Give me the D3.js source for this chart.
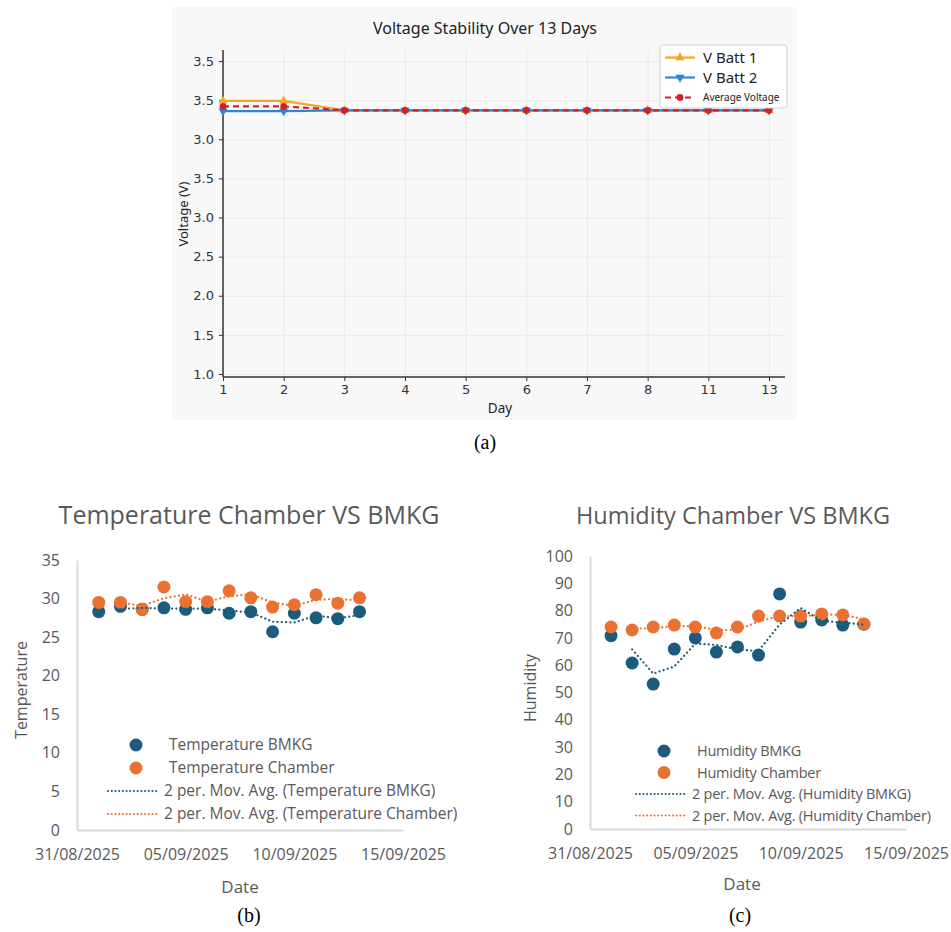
<!DOCTYPE html>
<html>
<head>
<meta charset="utf-8">
<script src="https://cdn.jsdelivr.net/npm/d3@7"></script>
<style>
  body { margin: 0; background: #fff; }
  svg { display: block; }
</style>
</head>
<body>
<div id="chart"></div>
<script>
// ---- (a) voltage ----
const dayLabels = ['1', '2', '3', '4', '5', '6', '7', '8', '11', '13'];
const voltTickLabels = ['1.0', '1.5', '2.0', '2.5', '3.0', '3.5', '3.0', '3.5', '3.5'];
const vBatt1 = [3.49, 3.49, 3.37, 3.37, 3.37, 3.37, 3.37, 3.37, 3.37, 3.37];
const vBatt2 = [3.36, 3.36, 3.37, 3.37, 3.37, 3.37, 3.37, 3.37, 3.37, 3.37];
const vAverage = [3.42, 3.42, 3.37, 3.37, 3.37, 3.37, 3.37, 3.37, 3.37, 3.37];

// ---- (b), (c) chamber vs BMKG ----
const dates = ['2025-09-01', '2025-09-02', '2025-09-03', '2025-09-04', '2025-09-05', '2025-09-06', '2025-09-07',
  '2025-09-08', '2025-09-09', '2025-09-10', '2025-09-11', '2025-09-12', '2025-09-13'];
const dateTicks = ['2025-08-31', '2025-09-05', '2025-09-10', '2025-09-15'];
const tempBMKG = [28.3, 29.0, 28.6, 28.8, 28.6, 28.8, 28.1, 28.3, 25.7, 28.1, 27.5, 27.4, 28.3];
const tempChamber = [29.5, 29.5, 28.6, 31.5, 29.6, 29.6, 31.0, 30.1, 28.9, 29.2, 30.5, 29.4, 30.1];
const humBMKG = [70.8, 60.8, 53.1, 65.9, 70.0, 64.8, 66.7, 63.7, 86.1, 75.8, 76.6, 74.7, 75.0];
const humChamber = [74.0, 72.9, 74.0, 74.7, 74.0, 71.8, 74.0, 78.0, 78.0, 78.0, 78.8, 78.4, 75.1];
const tempTicks = [0, 5, 10, 15, 20, 25, 30, 35];
const humTicks = [0, 10, 20, 30, 40, 50, 60, 70, 80, 90, 100];

const W = 951, H = 932;
const svg = d3.select('#chart').append('svg').attr('width', W).attr('height', H);
const parseDate = d3.timeParse('%Y-%m-%d');
const fmtDate = d3.timeFormat('%d/%m/%Y');

// ================= (a) =================
function drawVoltage() {
  const g = svg.append('g');
  const font = "'Noto Sans', 'DejaVu Sans', sans-serif";
  const tickFont = "'DejaVu Sans', sans-serif";

  g.append('rect').attr('x', 172).attr('y', 7).attr('width', 625).attr('height', 413).attr('fill', '#f8f8f8');

  const x = d3.scalePoint().domain(dayLabels).range([223, 769]);
  const ySlot = d3.scaleLinear().domain([0, voltTickLabels.length - 1]).range([374, 61]);
  // values between the 6th and 7th tick ('3.0' -> '3.5')
  const yVal = d3.scaleLinear().domain([3.0, 3.5]).range([ySlot(6), ySlot(7)]);
  const top = 50, bottom = 377, right = 785;

  // grid
  g.append('g')
    .attr('transform', 'translate(0,' + bottom + ')')
    .call(d3.axisBottom(x).tickSize(-(bottom - top)).tickFormat(''))
    .call(a => a.select('.domain').remove())
    .selectAll('line').attr('stroke', '#e6e6e6').attr('stroke-width', 0.8);
  g.append('g')
    .attr('transform', 'translate(' + x.range()[0] + ',0)')
    .call(d3.axisLeft(ySlot).tickValues(d3.range(voltTickLabels.length)).tickSize(-(right - x.range()[0])).tickFormat(''))
    .call(a => a.select('.domain').remove())
    .selectAll('line').attr('stroke', '#e6e6e6').attr('stroke-width', 0.8);

  // axes
  const ax = g.append('g')
    .attr('transform', 'translate(0,' + bottom + ')')
    .call(d3.axisBottom(x).tickSize(4).tickPadding(4));
  ax.select('.domain').attr('d', 'M' + x.range()[0] + ',0H' + right).attr('stroke', '#333').attr('stroke-width', 1.5);
  ax.selectAll('.tick line').attr('stroke', '#333');
  ax.selectAll('text').attr('font-family', tickFont).attr('font-size', 13).attr('fill', '#333');

  const ay = g.append('g')
    .attr('transform', 'translate(' + x.range()[0] + ',0)')
    .call(d3.axisLeft(ySlot).tickValues(d3.range(voltTickLabels.length)).tickFormat(i => voltTickLabels[i]).tickSize(4).tickPadding(5));
  ay.select('.domain').attr('d', 'M0,' + top + 'V' + bottom).attr('stroke', '#333').attr('stroke-width', 1.5);
  ay.selectAll('.tick line').attr('stroke', '#333');
  ay.selectAll('text').attr('font-family', tickFont).attr('font-size', 13).attr('fill', '#333');

  // series
  const series = [
    { values: vBatt1, color: '#f5a623', dash: null, marker: d3.symbolTriangle, rot: 0 },
    { values: vBatt2, color: '#2b87d1', dash: null, marker: d3.symbolTriangle, rot: 180 },
    { values: vAverage, color: '#d0202a', dash: '6,4', marker: d3.symbolCircle, rot: 0 }
  ];
  const line = d3.line().x((d, i) => x(dayLabels[i])).y(d => yVal(d));
  series.forEach(s => {
    g.append('path').datum(s.values).attr('d', line)
      .attr('fill', 'none').attr('stroke', s.color).attr('stroke-width', 2.2)
      .attr('stroke-dasharray', s.dash);
    g.append('g').selectAll('path').data(s.values).enter().append('path')
      .attr('d', d3.symbol().type(s.marker).size(36))
      .attr('transform', (d, i) => 'translate(' + x(dayLabels[i]) + ',' + yVal(d) + ') rotate(' + s.rot + ')')
      .attr('fill', s.color);
  });

  // title and labels
  g.append('text').attr('x', 485).attr('y', 34).attr('text-anchor', 'middle')
    .attr('font-family', font).attr('font-size', 16).attr('fill', '#222').text('Voltage Stability Over 13 Days');
  g.append('text').attr('transform', 'translate(188,214) rotate(-90)').attr('text-anchor', 'middle')
    .attr('font-family', font).attr('font-size', 13).attr('fill', '#222').text('Voltage (V)');
  g.append('text').attr('x', 500).attr('y', 413).attr('text-anchor', 'middle')
    .attr('font-family', font).attr('font-size', 13.5).attr('fill', '#222').text('Day');

  // legend
  const lg = g.append('g').attr('transform', 'translate(660,45)');
  lg.append('rect').attr('width', 127).attr('height', 63).attr('rx', 3)
    .attr('fill', '#fff').attr('stroke', '#cfcfcf');
  const names = ['V Batt 1', 'V Batt 2', 'Average Voltage'];
  series.forEach((s, i) => {
    const yy = 12.5 + i * 20;
    lg.append('line').attr('x1', 5).attr('x2', 35).attr('y1', yy).attr('y2', yy)
      .attr('stroke', s.color).attr('stroke-width', 2.2).attr('stroke-dasharray', s.dash);
    lg.append('path').attr('d', d3.symbol().type(s.marker).size(36))
      .attr('transform', 'translate(20,' + yy + ') rotate(' + s.rot + ')').attr('fill', s.color);
    lg.append('text').attr('x', 43).attr('y', yy).attr('dy', '0.35em')
      .attr('font-family', font).attr('font-size', i === 2 ? 10 : 15).attr('fill', '#222').text(names[i]);
  });

  g.append('text').attr('x', 485).attr('y', 449).attr('text-anchor', 'middle')
    .attr('font-family', "'Liberation Serif', serif").attr('font-size', 20).attr('fill', '#000').text('(a)');
}

// ================= (b), (c) =================
function drawComparison(o) {
  const g = svg.append('g');
  const font = "'Open Sans', 'Noto Sans', sans-serif";
  const grey = '#595959';
  const blue = '#1b5b7e', orange = '#e97132';

  const x = d3.scaleTime().domain(d3.extent(dateTicks, parseDate)).range([o.left, o.right]);
  const y = d3.scaleLinear().domain(d3.extent(o.ticks)).range([o.bottom, o.top]);

  const ax = g.append('g').attr('transform', 'translate(0,' + o.bottom + ')')
    .call(d3.axisBottom(x).tickValues(dateTicks.map(parseDate)).tickFormat(fmtDate).tickSize(0).tickPadding(19));
  ax.select('.domain').attr('stroke', '#d9d9d9').attr('stroke-width', 2);
  ax.selectAll('text').attr('font-family', font).attr('font-size', 16).attr('fill', grey);

  const ay = g.append('g').attr('transform', 'translate(' + o.left + ',0)')
    .call(d3.axisLeft(y).tickValues(o.ticks).tickSize(0).tickPadding(17));
  ay.select('.domain').attr('stroke', '#d9d9d9').attr('stroke-width', 2);
  ay.selectAll('text').attr('font-family', font).attr('font-size', 16).attr('fill', grey);

  const pts = v => v.map((d, i) => ({ date: parseDate(dates[i]), v: d }));
  const movAvg = v => v.slice(1).map((d, i) => ({ date: parseDate(dates[i + 1]), v: d3.mean([v[i], d]) }));
  const line = d3.line().x(d => x(d.date)).y(d => y(d.v));

  [[o.bmkg, blue], [o.chamber, orange]].forEach(([v, c]) => {
    g.append('g').selectAll('circle').data(pts(v)).enter().append('circle')
      .attr('cx', d => x(d.date)).attr('cy', d => y(d.v)).attr('r', 6.5).attr('fill', c);
  });
  [[o.bmkg, blue], [o.chamber, orange]].forEach(([v, c]) => {
    g.append('path').datum(movAvg(v)).attr('d', line).attr('fill', 'none')
      .attr('stroke', c).attr('stroke-width', 2.2).attr('stroke-dasharray', '0.1,4.2').attr('stroke-linecap', 'round');
  });

  g.append('text').attr('x', o.titleX).attr('y', 524).attr('text-anchor', 'middle')
    .attr('font-family', font).attr('font-size', o.titleSize).attr('fill', grey).text(o.title);
  g.append('text').attr('transform', 'translate(' + o.yLabelX + ',' + o.yLabelY + ') rotate(-90)').attr('text-anchor', 'middle')
    .attr('font-family', font).attr('font-size', 16).attr('fill', grey).text(o.yLabel);
  g.append('text').attr('x', o.dateX).attr('y', o.dateY).attr('text-anchor', 'middle')
    .attr('font-family', font).attr('font-size', 17).attr('fill', grey).text('Date');

  // legend
  const lg = g.append('g').attr('transform', 'translate(' + o.legX + ',' + o.legY + ')');
  const rows = [
    { type: 'dot', c: blue, t: o.name + ' BMKG' },
    { type: 'dot', c: orange, t: o.name + ' Chamber' },
    { type: 'ma', c: blue, t: '2 per. Mov. Avg. (' + o.name + ' BMKG)' },
    { type: 'ma', c: orange, t: '2 per. Mov. Avg. (' + o.name + ' Chamber)' }
  ];
  rows.forEach((r, i) => {
    const yy = i * o.legStep;
    if (r.type === 'dot') {
      lg.append('circle').attr('cx', 28).attr('cy', yy).attr('r', 6.5).attr('fill', r.c);
      lg.append('text').attr('x', 61).attr('y', yy).attr('dy', '0.35em')
        .attr('font-family', font).attr('font-size', o.legSize).attr('letter-spacing', o.legSpacing)
        .attr('fill', grey).text(r.t);
    } else {
      lg.append('line').attr('x1', 0).attr('x2', 49).attr('y1', yy).attr('y2', yy)
        .attr('stroke', r.c).attr('stroke-width', 2).attr('stroke-dasharray', '0.1,3.6').attr('stroke-linecap', 'round');
      lg.append('text').attr('x', 56).attr('y', yy).attr('dy', '0.35em')
        .attr('font-family', font).attr('font-size', o.legSize).attr('letter-spacing', o.legSpacing)
        .attr('fill', grey).text(r.t);
    }
  });

  g.append('text').attr('x', o.capX).attr('y', 922).attr('text-anchor', 'middle')
    .attr('font-family', "'Liberation Serif', serif").attr('font-size', 20).attr('fill', '#000').text(o.caption);
}

drawVoltage();
drawComparison({
  title: 'Temperature Chamber VS BMKG', name: 'Temperature', yLabel: 'Temperature', titleSize: 25,
  bmkg: tempBMKG, chamber: tempChamber, ticks: tempTicks,
  left: 77, right: 403, top: 560, bottom: 830,
  titleX: 249, yLabelX: 27, yLabelY: 690, dateX: 240, dateY: 893,
  legX: 108, legY: 745, legStep: 23, legSize: 15.5, legSpacing: 0, capX: 249, caption: '(b)'
});
drawComparison({
  title: 'Humidity Chamber VS BMKG', name: 'Humidity', yLabel: 'Humidity', titleSize: 23.5,
  bmkg: humBMKG, chamber: humChamber, ticks: humTicks,
  left: 590, right: 906, top: 556, bottom: 829,
  titleX: 733, yLabelX: 536, yLabelY: 688, dateX: 742, dateY: 890,
  legX: 636, legY: 751, legStep: 21.5, legSize: 14.5, legSpacing: -0.25, capX: 740, caption: '(c)'
});
</script>
</body>
</html>
